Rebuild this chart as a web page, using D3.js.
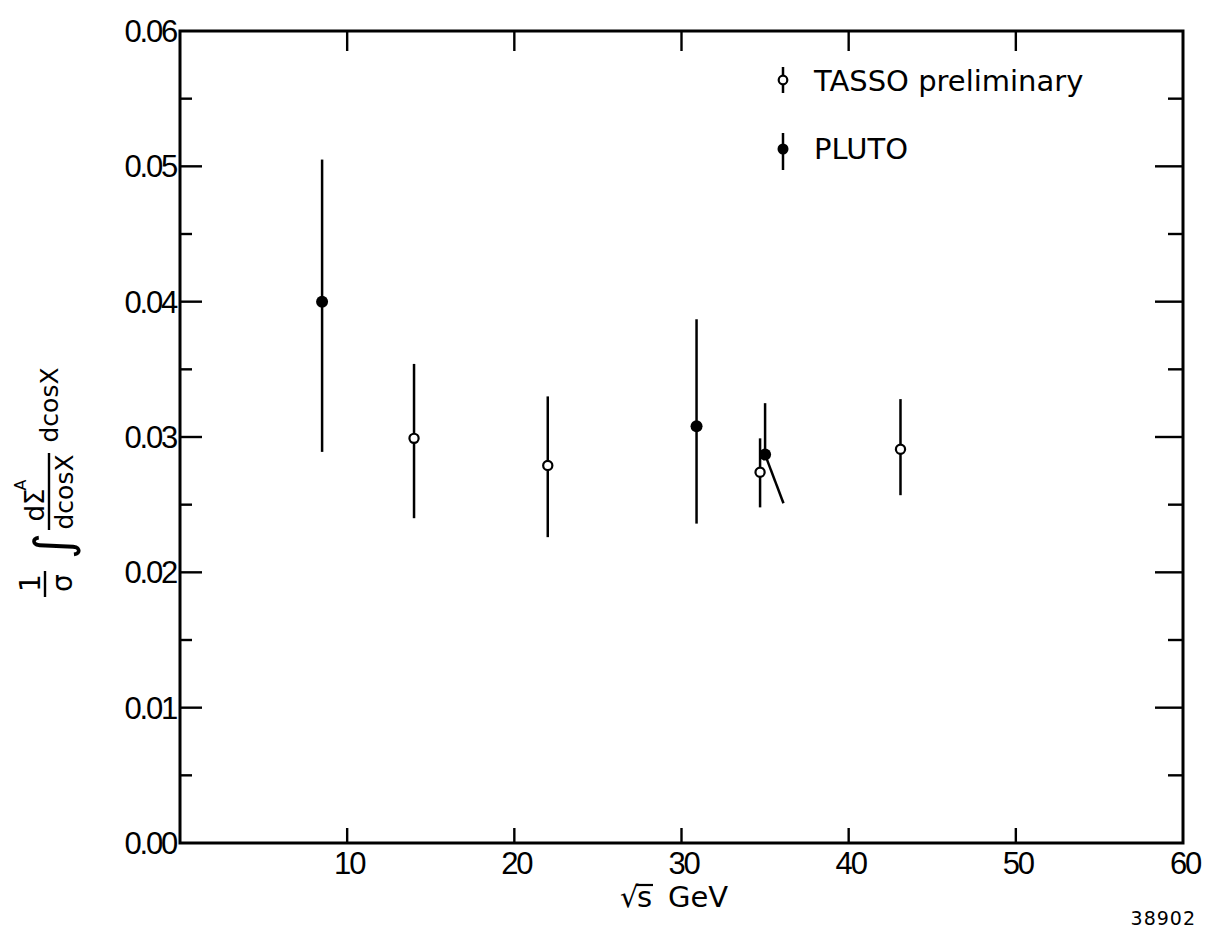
<!DOCTYPE html>
<meta charset="utf-8">
<style>
body { margin: 0; background: #fff; }
svg text { font-family: "DejaVu Sans", sans-serif; fill: #000; }
.tick-label { font-family: "Liberation Sans", Arial, sans-serif; font-size: 31px; letter-spacing: -2.2px; }
.err { stroke: #000; stroke-width: 2.5; }
</style>
<svg width="1205" height="931"></svg>
<script src="https://d3js.org/d3.v7.min.js"></script>
<script>

// data
var tassoX    = [14.0, 22.0, 34.7, 43.1];
var tassoY    = [0.0299, 0.0279, 0.0274, 0.0291];
var tassoHigh = [0.0354, 0.0330, 0.0299, 0.0328];
var tassoLow  = [0.0240, 0.0226, 0.0248, 0.0257];

var plutoX    = [8.5, 30.9, 35.0];
var plutoY    = [0.0400, 0.0308, 0.0287];
var plutoHigh = [0.0505, 0.0387, 0.0325];
var plutoLow  = [0.0289, 0.0236, 0.0251];
var plutoLowX = [8.5, 30.9, 36.1];   // lower bar of last point is drawn slanted

var xTicks = [10, 20, 30, 40, 50, 60];
var yTicks = [0, 0.01, 0.02, 0.03, 0.04, 0.05, 0.06];
var yMinor = [0.005, 0.015, 0.025, 0.035, 0.045, 0.055];

var svg = d3.select("svg");

var x = d3.scaleLinear().domain([0, 60]).range([180, 1183]),
    y = d3.scaleLinear().domain([0, 0.06]).range([843, 31]);

// frame
svg.append("rect")
    .attr("x", x(0)).attr("y", y(0.06))
    .attr("width", x(60) - x(0)).attr("height", y(0) - y(0.06))
    .attr("fill", "none").attr("stroke", "#000").attr("stroke-width", 3);

// ticks, all pointing inward
var ticks = svg.append("g").attr("stroke", "#000").attr("stroke-width", 2.4);
yTicks.slice(1, 6).forEach(function(v) {
  ticks.append("line").attr("x1", x(0)).attr("x2", x(0) + 22).attr("y1", y(v)).attr("y2", y(v));
  ticks.append("line").attr("x1", x(60)).attr("x2", x(60) - 28).attr("y1", y(v)).attr("y2", y(v));
});
yMinor.forEach(function(v) {
  ticks.append("line").attr("x1", x(0)).attr("x2", x(0) + 12).attr("y1", y(v)).attr("y2", y(v));
  ticks.append("line").attr("x1", x(60)).attr("x2", x(60) - 15).attr("y1", y(v)).attr("y2", y(v));
});
xTicks.slice(0, 5).forEach(function(v) {
  ticks.append("line").attr("x1", x(v)).attr("x2", x(v)).attr("y1", y(0)).attr("y2", y(0) - 15);
  ticks.append("line").attr("x1", x(v)).attr("x2", x(v)).attr("y1", y(0.06)).attr("y2", y(0.06) + 20);
});

// tick labels
svg.selectAll(".ylab").data(yTicks).enter().append("text")
    .attr("class", "tick-label")
    .attr("x", x(0) - 4).attr("y", function(d) { return y(d) + 11; })
    .attr("text-anchor", "end")
    .text(function(d) { return d.toFixed(2); });

svg.selectAll(".xlab").data(xTicks).enter().append("text")
    .attr("class", "tick-label")
    .attr("x", function(d) { return x(d) + 2; }).attr("y", y(0) + 31)
    .attr("text-anchor", "middle")
    .text(function(d) { return d; });

// x axis title
svg.append("text").attr("x", 620).attr("y", 907).style("font-size", "29px").text("\u221A");
svg.append("line").attr("x1", 636).attr("x2", 653).attr("y1", 885).attr("y2", 885)
    .attr("stroke", "#000").attr("stroke-width", 2.2);
svg.append("text").attr("x", 637).attr("y", 907).style("font-size", "29px").text("s");
svg.append("text").attr("x", 668).attr("y", 907).style("font-size", "29px").text("GeV");

svg.append("text").attr("x", 1196).attr("y", 925).attr("text-anchor", "end")
    .style("font-size", "19px").style("letter-spacing", "1px").text("38902");

// y axis title, built in a rotated frame (x' = -Y, y' = X)
var yl = svg.append("g").attr("transform", "rotate(-90)");
function yText(str, Y, X, size) {
  return yl.append("text").attr("x", -Y).attr("y", X)
      .attr("text-anchor", "middle").style("font-size", size + "px").text(str);
}
function yRule(Y1, Y2, X) {
  yl.append("line").attr("x1", -Y1).attr("x2", -Y2).attr("y1", X).attr("y2", X)
      .attr("stroke", "#000").attr("stroke-width", 2.4);
}
yText("1", 583, 40, 28);
yRule(571, 597, 45);
yText("\u03C3", 583, 72, 28);
yText("\u222B", 546, 70, 50);
yText("d\u03A3", 505, 44, 26);
yText("A", 485, 26, 16);
yRule(453, 530, 49);
yText("dcosX", 492, 73, 25);
yText("dcosX", 405, 58, 25);

// error bars
svg.selectAll(".terr").data(tassoX).enter().append("line").attr("class", "err")
    .attr("x1", function(d) { return x(d); }).attr("x2", function(d) { return x(d); })
    .attr("y1", function(d, i) { return y(tassoHigh[i]); })
    .attr("y2", function(d, i) { return y(tassoLow[i]); });

svg.selectAll(".perrHi").data(plutoX).enter().append("line").attr("class", "err")
    .attr("x1", function(d) { return x(d); }).attr("x2", function(d) { return x(d); })
    .attr("y1", function(d, i) { return y(plutoHigh[i]); })
    .attr("y2", function(d, i) { return y(plutoY[i]); });
svg.selectAll(".perrLo").data(plutoX).enter().append("line").attr("class", "err")
    .attr("x1", function(d) { return x(d); }).attr("x2", function(d, i) { return x(plutoLowX[i]); })
    .attr("y1", function(d, i) { return y(plutoY[i]); })
    .attr("y2", function(d, i) { return y(plutoLow[i]); });

// markers
svg.selectAll(".tasso").data(tassoX).enter().append("circle")
    .attr("cx", function(d) { return x(d); })
    .attr("cy", function(d, i) { return y(tassoY[i]); })
    .attr("r", 4.6).attr("fill", "#fff").attr("stroke", "#000").attr("stroke-width", 2.2);

svg.selectAll(".pluto").data(plutoX).enter().append("circle")
    .attr("cx", function(d) { return x(d); })
    .attr("cy", function(d, i) { return y(plutoY[i]); })
    .attr("r", 6).attr("fill", "#000");

// legend
var lg = svg.append("g");
lg.append("line").attr("class", "err").attr("x1", 783).attr("x2", 783).attr("y1", 67).attr("y2", 93);
lg.append("circle").attr("cx", 783).attr("cy", 80).attr("r", 4.3)
    .attr("fill", "#fff").attr("stroke", "#000").attr("stroke-width", 2.2);
lg.append("text").attr("x", 814).attr("y", 91).style("font-size", "29px").text("TASSO preliminary");
lg.append("line").attr("class", "err").attr("x1", 783).attr("x2", 783).attr("y1", 133).attr("y2", 170);
lg.append("circle").attr("cx", 783).attr("cy", 149).attr("r", 5.5).attr("fill", "#000");
lg.append("text").attr("x", 814).attr("y", 159).style("font-size", "29px").text("PLUTO");

</script>
